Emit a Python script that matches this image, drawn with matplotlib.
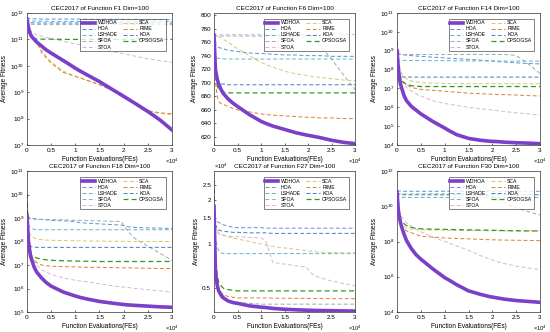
import matplotlib
matplotlib.use('Agg')
import matplotlib.pyplot as plt
import numpy as np

plt.rcParams['font.family'] = ['Liberation Sans', 'DejaVu Sans']
plt.rcParams['mathtext.default'] = 'regular'

FES = [0, 300, 700, 1000, 1500, 2000, 3000, 4000, 5000, 7500, 10000, 11000,
       12500, 15000, 17500, 19500, 21000, 22500, 25000, 27500, 30000]

ALGOS = ['WDHOA', 'HOA', 'LSHADE', 'SFOA', 'STOA', 'SCA', 'RIME', 'KOA', 'CPSOGSA']
COLORS = ['#7b3fc8', '#5b8fd8', '#62b4c8', '#93aeb0', '#d8b2e0',
          '#d8c870', '#d9822b', '#3f7fbf', '#2f9a20']

# F1, log10 of average fitness
F1 = {
    'WDHOA':   [11.75, 11.45, 11.2, 11.1, 11.0, 10.9, 10.75, 10.6, 10.48, 10.2, 9.91, 9.8, 9.65, 9.4, 9.12, 8.9, 8.73, 8.56, 8.27, 7.95, 7.57],
    'HOA':     [11.85, 11.8, 11.78, 11.78, 11.78, 11.78, 11.77, 11.77, 11.77, 11.77, 11.77, 11.77, 11.76, 11.76, 11.76, 11.76, 11.75, 11.75, 11.75, 11.75, 11.75],
    'LSHADE':  [11.8, 11.72, 11.7, 11.7, 11.69, 11.69, 11.69, 11.69, 11.68, 11.68, 11.68, 11.68, 11.68, 11.68, 11.68, 11.68, 11.68, 11.68, 11.68, 11.68, 11.68],
    'SFOA':    [11.75, 11.62, 11.58, 11.57, 11.57, 11.57, 11.56, 11.56, 11.56, 11.56, 11.56, 11.56, 11.56, 11.56, 11.56, 11.56, 11.56, 11.56, 11.56, 11.56, 11.56],
    'STOA':    [11.6, 11.4, 11.3, 11.28, 11.22, 11.18, 11.12, 11.08, 11.03, 10.93, 10.83, 10.8, 10.74, 10.65, 10.55, 10.47, 10.42, 10.36, 10.27, 10.2, 10.13],
    'SCA':     [11.7, 11.45, 11.25, 11.15, 11.05, 10.95, 10.6, 10.35, 10.15, 9.8, 9.6, 9.55, 9.45, 9.3, 9.1, 8.88, 8.72, 8.55, 8.27, 8.2, 8.15],
    'RIME':    [11.65, 11.4, 11.2, 11.1, 11.0, 10.9, 10.5, 10.3, 10.1, 9.75, 9.6, 9.54, 9.44, 9.28, 9.08, 8.88, 8.72, 8.56, 8.3, 8.22, 8.18],
    'KOA':     [11.8, 11.66, 11.63, 11.63, 11.62, 11.62, 11.62, 11.62, 11.62, 11.62, 11.62, 11.62, 11.62, 11.62, 11.62, 11.62, 11.62, 11.62, 11.62, 11.62, 11.62],
    'CPSOGSA': [11.6, 11.3, 11.1, 11.05, 11.02, 11.02, 11.01, 11.01, 11.01, 11.0, 11.0, 11.0, 11.0, 11.0, 11.0, 11.0, 11.0, 11.0, 11.0, 11.0, 11.0],
}

# F6, average fitness
F6 = {
    'WDHOA':   [770, 720, 705, 698, 690, 684, 676, 670, 665, 653, 643, 640, 636, 631, 626, 623, 621, 619, 615, 612, 610],
    'HOA':     [760, 757, 754, 752, 751, 750, 748, 747, 746, 744, 743, 743, 742, 741, 741, 740, 740, 740, 739, 739, 739],
    'LSHADE':  [745, 738, 736, 736, 736, 735, 735, 735, 735, 735, 735, 735, 735, 735, 735, 735, 735, 735, 735, 735, 735],
    'SFOA':    [770, 769, 769, 769, 769, 769, 769, 769, 769, 769, 769, 769, 769, 769, 769, 769, 769, 755, 735, 712, 690],
    'STOA':    [775, 772, 771, 771, 771, 771, 771, 771, 771, 771, 771, 771, 771, 771, 771, 771, 771, 771, 771, 771, 771],
    'SCA':     [775, 771, 769, 768, 766, 764, 760, 755, 750, 740, 730, 727, 723, 717, 713, 711, 709, 708, 706, 704, 703],
    'RIME':    [765, 700, 680, 672, 669, 668, 665, 662, 660, 657, 654, 653, 652, 651, 650, 649, 649, 648, 648, 647, 647],
    'KOA':     [760, 720, 702, 699, 698, 698, 697, 697, 697, 697, 697, 697, 697, 697, 697, 697, 697, 697, 697, 697, 697],
    'CPSOGSA': [770, 715, 695, 690, 687, 686, 685, 685, 685, 685, 685, 685, 685, 685, 685, 685, 685, 685, 685, 685, 685],
}

# F14, log10 of average fitness
F14 = {
    'WDHOA':   [9.0, 8.0, 7.25, 7.0, 6.6, 6.35, 6.05, 5.85, 5.65, 5.25, 4.9, 4.75, 4.55, 4.35, 4.25, 4.2, 4.18, 4.15, 4.12, 4.1, 4.07],
    'HOA':     [8.9, 8.85, 8.82, 8.8, 8.78, 8.76, 8.74, 8.72, 8.7, 8.66, 8.62, 8.6, 8.58, 8.54, 8.5, 8.46, 8.43, 8.4, 8.36, 8.32, 8.3],
    'LSHADE':  [8.6, 8.52, 8.5, 8.5, 8.49, 8.49, 8.48, 8.48, 8.48, 8.47, 8.47, 8.47, 8.46, 8.46, 8.46, 8.46, 8.45, 8.45, 8.45, 8.45, 8.45],
    'SFOA':    [8.8, 8.8, 8.8, 8.8, 8.8, 8.8, 8.8, 8.8, 8.8, 8.8, 8.8, 8.8, 8.8, 8.8, 8.8, 8.8, 8.8, 8.8, 8.75, 8.3, 7.8],
    'STOA':    [8.4, 8.0, 7.6, 7.4, 7.2, 7.05, 6.85, 6.72, 6.6, 6.35, 6.2, 6.16, 6.1, 6.0, 5.92, 5.87, 5.82, 5.78, 5.7, 5.65, 5.6],
    'SCA':     [9.2, 8.5, 8.0, 7.8, 7.6, 7.5, 7.4, 7.35, 7.3, 7.28, 7.27, 7.26, 7.26, 7.25, 7.25, 7.25, 7.25, 7.25, 7.25, 7.25, 7.25],
    'RIME':    [9.0, 8.0, 7.55, 7.4, 7.3, 7.2, 7.05, 7.0, 6.95, 6.9, 6.85, 6.83, 6.8, 6.75, 6.72, 6.7, 6.68, 6.67, 6.65, 6.62, 6.6],
    'KOA':     [8.2, 7.8, 7.65, 7.62, 7.61, 7.6, 7.6, 7.6, 7.6, 7.6, 7.6, 7.6, 7.6, 7.6, 7.6, 7.6, 7.6, 7.6, 7.6, 7.6, 7.6],
    'CPSOGSA': [9.5, 8.2, 7.6, 7.4, 7.3, 7.2, 7.15, 7.12, 7.1, 7.1, 7.1, 7.1, 7.1, 7.1, 7.1, 7.1, 7.1, 7.1, 7.1, 7.1, 7.1],
}

# F18, log10 of average fitness
F18 = {
    'WDHOA':   [9.1, 8.0, 7.4, 7.2, 6.9, 6.7, 6.45, 6.25, 6.1, 5.85, 5.68, 5.62, 5.55, 5.45, 5.38, 5.33, 5.3, 5.28, 5.25, 5.22, 5.2],
    'HOA':     [9.1, 9.05, 9.0, 8.98, 8.97, 8.96, 8.94, 8.92, 8.9, 8.88, 8.85, 8.8, 8.78, 8.75, 8.72, 8.7, 8.62, 8.6, 8.58, 8.57, 8.55],
    'LSHADE':  [9.0, 8.7, 8.6, 8.55, 8.52, 8.5, 8.5, 8.5, 8.5, 8.5, 8.5, 8.5, 8.5, 8.5, 8.5, 8.5, 8.5, 8.5, 8.5, 8.5, 8.5],
    'SFOA':    [9.3, 9.0, 8.96, 8.95, 8.95, 8.95, 8.94, 8.94, 8.93, 8.92, 8.9, 8.9, 8.89, 8.88, 8.86, 8.85, 8.4, 8.1, 7.8, 7.5, 7.2],
    'STOA':    [8.8, 8.0, 7.6, 7.4, 7.2, 7.0, 6.8, 6.7, 6.6, 6.45, 6.35, 6.32, 6.28, 6.2, 6.12, 6.07, 6.04, 6.0, 5.95, 5.9, 5.85],
    'SCA':     [10.0, 8.6, 8.3, 8.2, 8.15, 8.1, 8.08, 8.06, 8.05, 8.04, 8.03, 8.03, 8.02, 8.02, 8.01, 8.01, 8.0, 8.0, 8.0, 8.0, 8.0],
    'RIME':    [9.0, 8.2, 7.6, 7.35, 7.2, 7.1, 7.0, 6.97, 6.95, 6.93, 6.92, 6.91, 6.9, 6.9, 6.89, 6.88, 6.88, 6.87, 6.86, 6.85, 6.85],
    'KOA':     [9.2, 8.0, 7.8, 7.77, 7.76, 7.75, 7.75, 7.75, 7.75, 7.75, 7.75, 7.75, 7.75, 7.75, 7.75, 7.75, 7.75, 7.75, 7.75, 7.75, 7.75],
    'CPSOGSA': [10.0, 8.3, 7.6, 7.4, 7.35, 7.3, 7.25, 7.22, 7.2, 7.18, 7.17, 7.16, 7.16, 7.15, 7.15, 7.15, 7.15, 7.15, 7.15, 7.15, 7.15],
}

# F27, average fitness in units of 1e4
F27 = {
    'WDHOA':   [1.8, 0.65, 0.52, 0.48, 0.45, 0.43, 0.41, 0.40, 0.395, 0.38, 0.372, 0.37, 0.365, 0.36, 0.357, 0.355, 0.354, 0.353, 0.352, 0.351, 0.35],
    'HOA':     [1.55, 1.48, 1.42, 1.4, 1.37, 1.35, 1.32, 1.3, 1.29, 1.29, 1.29, 1.28, 1.28, 1.28, 1.28, 1.28, 1.28, 1.28, 1.28, 1.28, 1.28],
    'LSHADE':  [1.4, 1.1, 0.95, 0.9, 0.87, 0.86, 0.86, 0.86, 0.86, 0.86, 0.86, 0.86, 0.86, 0.86, 0.86, 0.86, 0.86, 0.86, 0.86, 0.86, 0.86],
    'SFOA':    [1.6, 0.7, 0.5, 0.46, 0.43, 0.42, 0.41, 0.405, 0.4, 0.395, 0.39, 0.39, 0.39, 0.39, 0.39, 0.39, 0.39, 0.39, 0.39, 0.39, 0.39],
    'STOA':    [1.6, 1.3, 1.2, 1.17, 1.15, 1.14, 1.13, 1.12, 1.12, 1.11, 1.1, 1.05, 0.75, 0.73, 0.71, 0.7, 0.62, 0.59, 0.56, 0.54, 0.52],
    'SCA':     [1.5, 1.3, 1.25, 1.2, 1.17, 1.15, 1.12, 1.1, 1.08, 1.04, 1.0, 0.98, 0.96, 0.94, 0.92, 0.9, 0.89, 0.88, 0.875, 0.87, 0.87],
    'RIME':    [1.7, 0.75, 0.55, 0.5, 0.47, 0.45, 0.44, 0.435, 0.43, 0.43, 0.43, 0.43, 0.428, 0.428, 0.427, 0.427, 0.426, 0.426, 0.425, 0.425, 0.425],
    'KOA':     [1.5, 1.35, 1.28, 1.25, 1.23, 1.22, 1.21, 1.2, 1.2, 1.19, 1.19, 1.19, 1.18, 1.18, 1.18, 1.18, 1.18, 1.18, 1.18, 1.18, 1.18],
    'CPSOGSA': [2.7, 0.9, 0.6, 0.55, 0.52, 0.5, 0.49, 0.485, 0.48, 0.48, 0.48, 0.48, 0.48, 0.48, 0.48, 0.48, 0.48, 0.48, 0.48, 0.48, 0.48],
}

# F30, log10 of average fitness
F30 = {
    'WDHOA':   [10.8, 9.7, 9.1, 8.8, 8.4, 8.05, 7.6, 7.25, 7.0, 6.45, 5.95, 5.8, 5.55, 5.2, 5.0, 4.87, 4.8, 4.73, 4.65, 4.6, 4.55],
    'HOA':     [10.9, 10.86, 10.86, 10.85, 10.85, 10.85, 10.85, 10.85, 10.85, 10.85, 10.85, 10.85, 10.85, 10.85, 10.85, 10.85, 10.85, 10.85, 10.85, 10.85, 10.85],
    'LSHADE':  [10.7, 10.55, 10.52, 10.5, 10.5, 10.5, 10.5, 10.5, 10.5, 10.5, 10.5, 10.5, 10.5, 10.5, 10.5, 10.5, 10.5, 10.5, 10.5, 10.5, 10.5],
    'SFOA':    [10.7, 10.7, 10.7, 10.7, 10.7, 10.7, 10.7, 10.7, 10.7, 10.7, 10.7, 10.7, 10.68, 10.66, 10.63, 10.6, 10.45, 10.2, 9.9, 9.7, 9.5],
    'STOA':    [10.5, 10.0, 9.6, 9.4, 9.2, 9.05, 8.85, 8.7, 8.55, 8.25, 8.0, 7.9, 7.75, 7.5, 7.2, 7.0, 6.85, 6.75, 6.6, 6.5, 6.4],
    'SCA':     [10.6, 9.7, 9.2, 9.0, 8.85, 8.75, 8.7, 8.68, 8.66, 8.65, 8.64, 8.63, 8.63, 8.62, 8.62, 8.61, 8.61, 8.6, 8.6, 8.6, 8.6],
    'RIME':    [10.7, 9.6, 9.0, 8.8, 8.7, 8.6, 8.5, 8.4, 8.3, 8.25, 8.2, 8.19, 8.17, 8.15, 8.12, 8.1, 8.09, 8.08, 8.07, 8.06, 8.05],
    'KOA':     [10.8, 10.68, 10.66, 10.65, 10.65, 10.65, 10.65, 10.65, 10.65, 10.65, 10.65, 10.65, 10.65, 10.65, 10.65, 10.65, 10.65, 10.65, 10.65, 10.65, 10.65],
    'CPSOGSA': [10.8, 9.8, 9.3, 9.1, 9.0, 8.9, 8.8, 8.75, 8.72, 8.7, 8.69, 8.68, 8.67, 8.66, 8.65, 8.64, 8.63, 8.62, 8.61, 8.6, 8.6],
}

TITLES = ['CEC2017 of Function F1 Dim=100', 'CEC2017 of Function F6 Dim=100',
          'CEC2017 of Function F14 Dim=100', 'CEC2017 of Function F18 Dim=100',
          'CEC2017 of Function F27 Dim=100', 'CEC2017 of Function F30 Dim=100']

# axes boxes in pixels: left, top, right, bottom
BOXES = [(27, 13, 172, 145), (214, 13, 355, 145), (397, 13, 540, 145),
         (27, 171, 172, 312), (214, 171, 355, 312), (397, 171, 540, 312)]

W, H = 550, 332
fig = plt.figure(figsize=(W / 100, H / 100), dpi=100)

FS = 4.6


def make_ax(box):
    l, t, r, b = box
    ax = fig.add_axes([l / W, 1 - b / H, (r - l) / W, (b - t) / H])
    ax.tick_params(direction='in', labelsize=FS, length=1.5, width=0.4, pad=2)
    for s in ax.spines.values():
        s.set_linewidth(0.5)
        s.set_color('#333333')
    return ax


def draw(ax, data, title, scale, log_input=True, mult=1.0):
    x = np.array(FES)
    for name, c in zip(ALGOS, COLORS):
        v = np.array(data[name], dtype=float)
        y = 10 ** v if log_input else v * mult
        if name == 'WDHOA':
            ax.plot(x, y, '-', color=c, lw=2.6, label=name, zorder=5)
        else:
            lw = 0.9 if name == 'CPSOGSA' else 0.7
            ax.plot(x, y, '--', color=c, lw=lw, dashes=(4, 2.5), label=name)
    ax.set_yscale(scale)
    ax.set_xlim(0, 30000)
    ax.set_xticks([0, 5000, 10000, 15000, 20000, 25000, 30000])
    ax.set_xticklabels(['0', '0.5', '1', '1.5', '2', '2.5', '3'])
    ax.set_title(title, fontsize=4.6, pad=2)
    ax.set_xlabel('Function Evaluations(FEs)', fontsize=4.7, labelpad=2)
    ax.set_ylabel('Average Fitness', fontsize=4.7, labelpad=1.5)
    ax.text(1.0, -0.085, r'$\times10^4$', transform=ax.transAxes, fontsize=FS - 0.6,
            ha='center', va='top')
    ax.minorticks_off()
    leg = ax.legend(ncol=2, fontsize=3.7, loc='upper right',
                    bbox_to_anchor=(0.975, 0.975), frameon=True, fancybox=False,
                    edgecolor='#222222', handlelength=2.6, handletextpad=0.5,
                    columnspacing=1.0, labelspacing=0.2, borderpad=0.3)
    leg.get_frame().set_linewidth(0.5)


def log_ticks(ax, exps, lo, hi):
    ax.set_ylim(10.0 ** lo, 10.0 ** hi)
    ax.set_yticks([10.0 ** e for e in exps])
    ax.set_yticklabels([r'$10^{%d}$' % e for e in exps])


ax = make_ax(BOXES[0])
draw(ax, F1, TITLES[0], 'log')
log_ticks(ax, [7, 8, 9, 10, 11, 12], 7, 12)

ax = make_ax(BOXES[1])
draw(ax, F6, TITLES[1], 'linear', log_input=False)
ax.set_ylim(608, 803)
ax.set_yticks(range(620, 801, 20))

ax = make_ax(BOXES[2])
draw(ax, F14, TITLES[2], 'log')
log_ticks(ax, [4, 5, 6, 7, 8, 9, 10, 11], 4, 11)

ax = make_ax(BOXES[3])
draw(ax, F18, TITLES[3], 'log')
log_ticks(ax, [5, 6, 7, 8, 9, 10, 11], 5, 11)

ax = make_ax(BOXES[4])
draw(ax, F27, TITLES[4], 'log', log_input=False, mult=1e4)
ax.set_ylim(3450, 31300)
ax.set_yticks([5000, 10000, 15000, 20000, 25000])
ax.set_yticklabels(['0.5', '1', '1.5', '2', '2.5'])
ax.text(0.0, 1.0, r'$\times10^4$', transform=ax.transAxes, fontsize=FS - 0.6,
        ha='left', va='bottom')

ax = make_ax(BOXES[5])
draw(ax, F30, TITLES[5], 'log')
log_ticks(ax, [4, 6, 8, 10, 12], 4, 12)

fig.savefig('out.png', dpi=100)
